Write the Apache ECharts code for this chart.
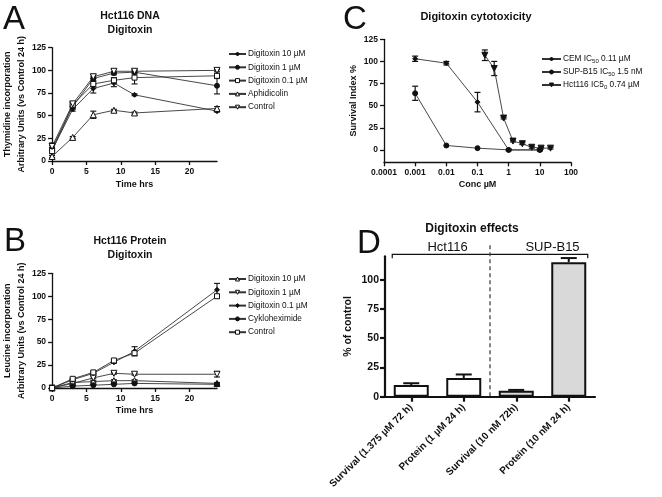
<!DOCTYPE html>
<html><head><meta charset="utf-8">
<script src="https://cdn.jsdelivr.net/npm/echarts@6/dist/echarts.min.js"></script>
<style>html,body{margin:0;padding:0;background:#fff}#c{width:662px;height:497px}</style>
</head><body><div id="c"></div>
<script>
// ---------- Panel A: Hct116 DNA (thymidine incorporation) ----------
const aTime = [0, 3, 6, 9, 12, 24];
const aDig10 = [12, 57, 80, 86, 73, 55];
const aDig10Err = [3, 2, 5, 4, 1, 1];
const aDig1 = [14, 60, 91, 97, 98, 83];
const aDig1Err = [3, 2, 2, 2, 2, 9];
const aDig01 = [11, 62, 85, 89, 92, 94];
const aDig01Err = [3, 2, 3, 3, 7, 3];
const aAphid = [5, 26, 51, 56, 53, 58];
const aAphidErr = [1, 1, 4, 1, 1, 2];
const aControl = [16, 63, 93, 99, 99, 100];
const aControlErr = [4, 2, 2, 2, 2, 1];
const aXTicks = [0, 5, 10, 15, 20];
const aYTicks = [0, 25, 50, 75, 100, 125];

// ---------- Panel B: Hct116 Protein (leucine incorporation) ----------
const bTime = [0, 3, 6, 9, 12, 24];
const bDig10 = [0, 6, 7, 8, 8, 5];
const bDig10Err = [0, 1, 1, 1, 1, 1];
const bDig1 = [0, 5, 11, 16, 15, 15];
const bDig1Err = [0, 1, 1, 1, 1, 3];
const bDig01 = [0, 9, 16, 28, 40, 107];
const bDig01Err = [0, 1, 1, 1, 5, 7];
const bCyclo = [0, 2, 3, 4, 5, 4];
const bControl = [0, 10, 17, 30, 38, 100];
const bControlErr = [0, 1, 1, 1, 2, 2];
const bXTicks = [0, 5, 10, 15, 20];
const bYTicks = [0, 25, 50, 75, 100, 125];

// ---------- Panel C: Digitoxin cytotoxicity ----------
const cCemConc = [0.001, 0.01, 0.1, 1, 10];
const cCem = [103, 98, 54, 0, 0];
const cCemErr = [3, 2, 11, 1, 1];
const cSupConc = [0.001, 0.01, 0.1, 1, 10];
const cSup = [64, 5, 2, 0, 0];
const cSupErr = [8, 0, 0, 0, 1];
const cHctConc = [0.171875, 0.34375, 0.6875, 1.375, 2.75, 5.5, 11, 22];
const cHct = [107, 92, 36, 10, 7, 3, 2, 2];
const cHctErr = [6, 8, 1, 1, 1, 1, 1, 1];
const cXTicks = [0.0001, 0.001, 0.01, 0.1, 1, 10, 100];
const cXLabels = ['0.0001', '0.001', '0.01', '0.1', '1', '10', '100'];
const cYTicks = [0, 25, 50, 75, 100, 125];

// ---------- Panel D: Digitoxin effects ----------
const dCats = ['Survival (1.375 µM 72 h)', 'Protein (1 µM 24 h)', 'Survival (10 nM 72h)', 'Protein (10 nM 24 h)'];
const dValues = [10, 16, 5, 115];
const dErr = [1.5, 3, 0.8, 3.5];
const dGroups = ['Hct116', 'Hct116', 'SUP-B15', 'SUP-B15'];
const dYTicks = [0, 25, 50, 75, 100];

const FONT = '"Liberation Sans", Arial, Helvetica, sans-serif';
const INK = '#111';
const groupFill = {'Hct116': '#ffffff', 'SUP-B15': '#d9d9d9'};

function pts(xs, ys) { return xs.map((x, i) => [x, ys[i]]); }
function lineS(name, idx, xs, ys, symbol, filled, size, rot) {
  return {
    type: 'line', name, xAxisIndex: idx, yAxisIndex: idx, data: pts(xs, ys),
    symbol, symbolSize: size, symbolRotate: rot || 0, showAllSymbol: true, z: 3,
    itemStyle: {color: filled ? INK : '#fff', borderColor: INK, borderWidth: 1},
    lineStyle: {color: '#333', width: 0.9}, emphasis: {disabled: true}, animation: false
  };
}
function errS(idx, xs, ys, es, capW, lw, upOnly) {
  const data = [];
  xs.forEach((x, i) => { if (es[i] > 0) data.push([x, upOnly ? ys[i] : ys[i] - es[i], ys[i] + es[i]]); });
  return {
    type: 'custom', xAxisIndex: idx, yAxisIndex: idx, data, z: 2, silent: true, animation: false,
    encode: {x: 0, y: [1, 2]},
    renderItem(params, api) {
      const x = api.value(0);
      const a = api.coord([x, api.value(1)]);
      const b = api.coord([x, api.value(2)]);
      const h = capW / 2;
      const st = {stroke: INK, lineWidth: lw};
      const ch = [
        {type: 'line', shape: {x1: a[0], y1: a[1], x2: b[0], y2: b[1]}, style: st},
        {type: 'line', shape: {x1: b[0] - h, y1: b[1], x2: b[0] + h, y2: b[1]}, style: st}
      ];
      if (!upOnly) ch.push({type: 'line', shape: {x1: a[0] - h, y1: a[1], x2: a[0] + h, y2: a[1]}, style: st});
      return {type: 'group', children: ch};
    }
  };
}
function axisBase(idx, lw, fs) {
  return {
    gridIndex: idx,
    axisLine: {show: true, onZero: false, lineStyle: {color: INK, width: lw}},
    axisTick: {show: true, length: 4, lineStyle: {color: INK, width: lw}},
    splitLine: {show: false},
    axisLabel: {fontFamily: FONT, fontWeight: 'bold', fontSize: fs, color: INK, margin: 6},
    nameTextStyle: {fontFamily: FONT, fontWeight: 'bold', fontSize: 9, color: INK, lineHeight: 13}
  };
}
function merge(a, b) {
  const o = Object.assign({}, a);
  for (const k in b) {
    if (b[k] && typeof b[k] === 'object' && !Array.isArray(b[k]) && a[k] && typeof a[k] === 'object') o[k] = merge(a[k], b[k]);
    else o[k] = b[k];
  }
  return o;
}

const chart = echarts.init(document.getElementById('c'), null, {renderer: 'canvas'});
const legText = {fontFamily: FONT, fontSize: 8.3, color: INK, lineHeight: 10, padding: [0, 0, 0, -3]};
const stripName = n => n.split('|')[1];
const legItem = (name, filled) => ({name, itemStyle: {color: filled ? INK : '#fff', borderColor: INK, borderWidth: 1}});
const cLegendText = {
  'C|CEM': '{n|CEM IC}{s|50}{n| 0.11 µM}',
  'C|SUP': '{n|SUP-B15 IC}{s|50}{n| 1.5 nM}',
  'C|Hct': '{n|Hct116 IC5}{s|0}{n| 0.74 µM}'
};

const option = {
  animation: false,
  backgroundColor: '#fff',
  grid: [
    {left: 45, top: 47.7, width: 172, height: 113.3},
    {left: 45, top: 273.3, width: 172, height: 114.7},
    {left: 384, top: 39.3, width: 187, height: 123},
    {left: 385, top: 256.3, width: 210, height: 140.4}
  ],
  xAxis: [
    merge(axisBase(0, 1.3, 8.5), {type: 'value', min: 0, max: 24, name: 'Time hrs', nameLocation: 'middle', nameGap: 17,
      axisLabel: {customValues: aXTicks}, axisTick: {customValues: aXTicks}}),
    merge(axisBase(1, 1.3, 8.5), {type: 'value', min: 0, max: 24, name: 'Time hrs', nameLocation: 'middle', nameGap: 16,
      axisLabel: {customValues: bXTicks}, axisTick: {customValues: bXTicks}}),
    merge(axisBase(2, 1.3, 8.5), {type: 'log', logBase: 10, min: 0.0001, max: 100, name: 'Conc µM', nameLocation: 'middle', nameGap: 15,
      axisLabel: {customValues: cXTicks, formatter: v => cXLabels[Math.round(Math.log10(v)) + 4]}, axisTick: {customValues: cXTicks}}),
    merge(axisBase(3, 2.2, 10), {type: 'category', data: dCats,
      axisLabel: {rotate: 45, interval: 0, margin: 9}, axisTick: {alignWithLabel: true, length: 5}})
  ],
  yAxis: [
    merge(axisBase(0, 1.3, 8.5), {type: 'value', min: 0, max: 125,
      name: 'Thymidine incorporation\nArbitrary Units (vs Control 24 h)', nameLocation: 'middle', nameRotate: 90, nameGap: 16,
      nameTextStyle: {lineHeight: 13.5},
      axisLabel: {customValues: aYTicks}, axisTick: {customValues: aYTicks}}),
    merge(axisBase(1, 1.3, 8.5), {type: 'value', min: 0, max: 125,
      name: 'Leucine incorporation\nArbitrary Units (vs Control 24 h)', nameLocation: 'middle', nameRotate: 90, nameGap: 16,
      nameTextStyle: {lineHeight: 13.5},
      axisLabel: {customValues: bYTicks}, axisTick: {customValues: bYTicks}}),
    merge(axisBase(2, 1.3, 8.5), {type: 'value', min: -14, max: 125,
      name: 'Survival Index %', nameLocation: 'middle', nameRotate: 90, nameGap: 21,
      axisLabel: {customValues: cYTicks}, axisTick: {customValues: cYTicks}}),
    merge(axisBase(3, 2.2, 10.5), {type: 'value', min: 0, max: 120,
      name: '% of control', nameLocation: 'middle', nameRotate: 90, nameGap: 30,
      nameTextStyle: {fontSize: 10.5},
      axisLabel: {customValues: dYTicks}, axisTick: {customValues: dYTicks, length: 5}})
  ],
  legend: [
    {orient: 'vertical', left: 228, top: 49, padding: 0, itemGap: 3.3, itemWidth: 17, itemHeight: 5,
      data: [legItem('A|Digitoxin 10 µM', true), legItem('A|Digitoxin 1 µM', true), legItem('A|Digitoxin 0.1 µM', false),
             legItem('A|Aphidicolin', false), legItem('A|Control', false)],
      formatter: stripName, textStyle: legText, selectedMode: false},
    {orient: 'vertical', left: 228, top: 274, padding: 0, itemGap: 3.3, itemWidth: 17, itemHeight: 5,
      data: [legItem('B|Digitoxin 10 µM', false), legItem('B|Digitoxin 1 µM', false), legItem('B|Digitoxin 0.1 µM', true),
             legItem('B|Cykloheximide', true), legItem('B|Control', false)],
      formatter: stripName, textStyle: legText, selectedMode: false},
    {orient: 'vertical', left: 541, top: 54, padding: 0, itemGap: 3, itemWidth: 19, itemHeight: 5,
      data: [legItem('C|CEM', true), legItem('C|SUP', true), legItem('C|Hct', true)],
      formatter: n => cLegendText[n], selectedMode: false,
      textStyle: {fontFamily: FONT, fontSize: 8.3, color: INK, padding: [0, 0, 0, -3],
        rich: {n: {fontFamily: FONT, fontSize: 8.3, color: INK, lineHeight: 10},
               s: {fontFamily: FONT, fontSize: 6, color: INK, lineHeight: 10, verticalAlign: 'bottom', padding: [4, 0, 0, 0]}}}}
  ],
  series: [
    errS(0, aTime, aDig10, aDig10Err, 6, 1.1), errS(0, aTime, aDig1, aDig1Err, 6, 1.1),
    errS(0, aTime, aDig01, aDig01Err, 6, 1.1), errS(0, aTime, aAphid, aAphidErr, 6, 1.1),
    errS(0, aTime, aControl, aControlErr, 6, 1.1),
    lineS('A|Digitoxin 10 µM', 0, aTime, aDig10, 'diamond', true, 5),
    lineS('A|Digitoxin 1 µM', 0, aTime, aDig1, 'circle', true, 5),
    lineS('A|Digitoxin 0.1 µM', 0, aTime, aDig01, 'rect', false, 5),
    lineS('A|Aphidicolin', 0, aTime, aAphid, 'triangle', false, 6),
    lineS('A|Control', 0, aTime, aControl, 'triangle', false, 6, 180),

    errS(1, bTime, bDig10, bDig10Err, 6, 1.1), errS(1, bTime, bDig1, bDig1Err, 6, 1.1),
    errS(1, bTime, bDig01, bDig01Err, 6, 1.1), errS(1, bTime, bControl, bControlErr, 6, 1.1),
    lineS('B|Digitoxin 10 µM', 1, bTime, bDig10, 'triangle', false, 6),
    lineS('B|Digitoxin 1 µM', 1, bTime, bDig1, 'triangle', false, 6, 180),
    lineS('B|Digitoxin 0.1 µM', 1, bTime, bDig01, 'diamond', true, 5),
    lineS('B|Cykloheximide', 1, bTime, bCyclo, 'circle', true, 5),
    lineS('B|Control', 1, bTime, bControl, 'rect', false, 5),

    errS(2, cCemConc, cCem, cCemErr, 6, 1.2), errS(2, cSupConc, cSup, cSupErr, 6, 1.2),
    errS(2, cHctConc, cHct, cHctErr, 6, 1.2),
    lineS('C|CEM', 2, cCemConc, cCem, 'diamond', true, 5),
    lineS('C|SUP', 2, cSupConc, cSup, 'circle', true, 5),
    lineS('C|Hct', 2, cHctConc, cHct, 'triangle', true, 6, 180),

    {type: 'bar', xAxisIndex: 3, yAxisIndex: 3, barWidth: 35, z: 2, animation: false,
      data: dValues.map((v, i) => ({value: v, itemStyle: {color: groupFill[dGroups[i]], borderColor: INK, borderWidth: 2}})),
      emphasis: {disabled: true}},
    errS(3, dCats.map((c, i) => i), dValues, dErr, 16, 2, true)
  ]
};
chart.setOption(option);

// Annotations placed through the chart's own coordinate conversion
const cx = dCats.map((c, i) => chart.convertToPixel({xAxisIndex: 3}, i));
const yTop = chart.convertToPixel({yAxisIndex: 3}, 120);
const yZero = chart.convertToPixel({yAxisIndex: 3}, 0);
const half = 19;
const mid = (cx[1] + cx[2]) / 2;
const left = cx[0] - half, right = cx[3] + half;
const brY = yTop - 2;
const txt = (text, x, y, size, weight, align, valign, lh) => ({type: 'text', silent: true,
  style: {text, x, y, fontFamily: FONT, fontSize: size, fontWeight: weight, fill: INK, align: align, verticalAlign: valign, textAlign: align, textVerticalAlign: valign, lineHeight: lh || size * 1.2}});

chart.setOption({
  graphic: [
    txt('A', 3, 20, 33, 'normal', 'left', 'middle'),
    txt('C', 343, 20, 33, 'normal', 'left', 'middle'),
    txt('B', 4, 242, 33, 'normal', 'left', 'middle'),
    txt('D', 357, 244, 33, 'normal', 'left', 'middle'),
    txt('Hct116 DNA\nDigitoxin', 130, 23, 10.5, 'bold', 'center', 'middle', 13.5),
    txt('Digitoxin cytotoxicity', 476, 17, 11, 'bold', 'center', 'middle'),
    txt('Hct116 Protein\nDigitoxin', 130, 248, 10.5, 'bold', 'center', 'middle', 13.5),
    txt('Digitoxin effects', 472, 229, 12, 'bold', 'center', 'middle'),
    txt('Hct116', (cx[0] + cx[1]) / 2 + 10, brY + 0.5, 13, 'normal', 'center', 'bottom'),
    txt('SUP-B15', (cx[2] + cx[3]) / 2 + 10, brY + 0.5, 13, 'normal', 'center', 'bottom'),
    {type: 'polyline', silent: true, shape: {points: [[left, brY + 4], [left, brY], [right, brY], [right, brY + 4]]},
      style: {stroke: INK, lineWidth: 1.2, fill: null}},
    {type: 'line', silent: true, shape: {x1: mid, y1: brY - 9, x2: mid, y2: yZero},
      style: {stroke: '#444', lineWidth: 1.3, lineDash: [4, 3]}}
  ]
});
</script></body></html>
